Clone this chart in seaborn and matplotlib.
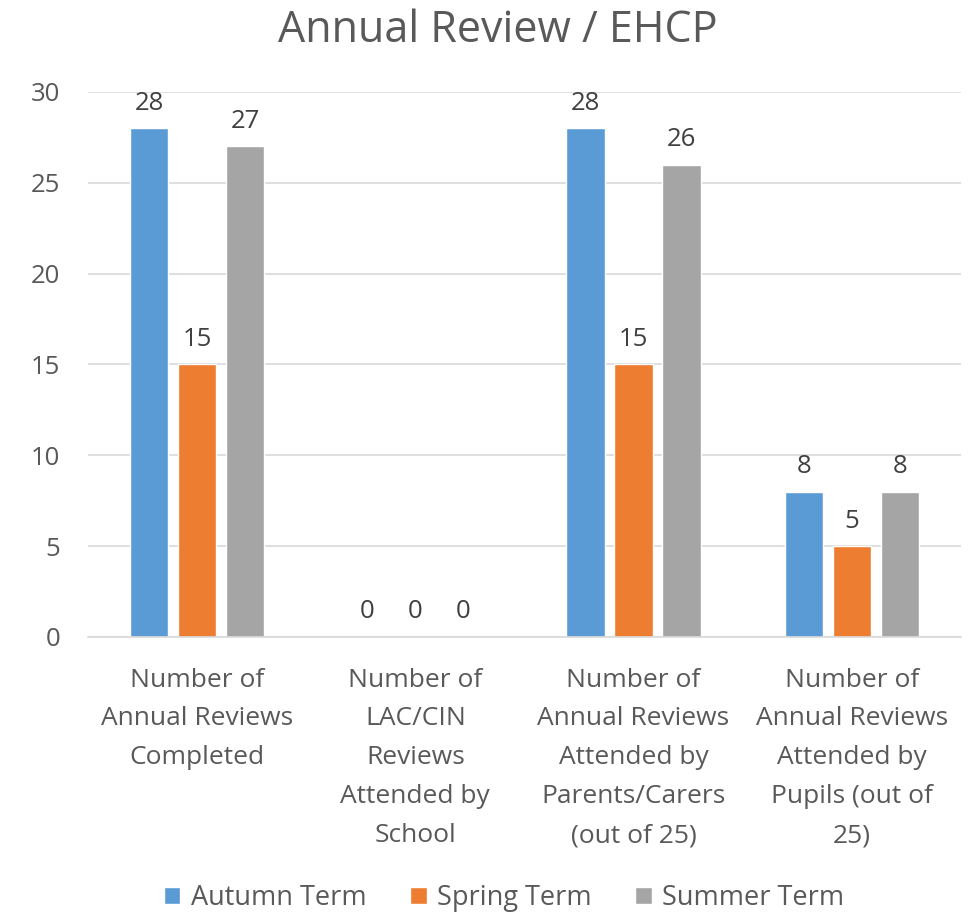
import numpy as np
import pandas as pd
import matplotlib
matplotlib.use("Agg")
import matplotlib.pyplot as plt
import seaborn as sns

# Dati del grafico
categories = [
    "Number of\nAnnual Reviews\nCompleted",
    "Number of\nLAC/CIN\nReviews\nAttended by\nSchool",
    "Number of\nAnnual Reviews\nAttended by\nParents/Carers\n(out of 25)",
    "Number of\nAnnual Reviews\nAttended by\nPupils (out of\n25)",
]
terms = ["Autumn Term", "Spring Term", "Summer Term"]
autumn = [28, 0, 28, 8]
spring = [15, 0, 15, 5]
summer = [27, 0, 26, 8]
colors = ["#5B9BD5", "#ED7D31", "#A5A5A5"]

df = pd.DataFrame({
    "category": categories * 3,
    "term": [terms[0]] * 4 + [terms[1]] * 4 + [terms[2]] * 4,
    "value": autumn + spring + summer,
})

sns.set_style("white")
plt.rcParams["font.family"] = ["Open Sans", "DejaVu Sans"]

fig = plt.figure(figsize=(9.73, 9.16), dpi=100)
ax = fig.add_axes([0.0905, 0.3046, 0.897, 0.595])

sns.barplot(data=df, x="category", y="value", hue="term", palette=colors,
            width=0.66, gap=0.2, ax=ax, legend=True, saturation=1)

# Etichette sopra le barre
for cont in ax.containers:
    ax.bar_label(cont, fmt="%d", padding=9, fontsize=18.5, color="#404040")

ax.set_ylim(0, 30)
ax.set_xlim(-0.5, 3.5)
ax.set_yticks(range(0, 31, 5))
ax.yaxis.grid(True, color="#D9D9D9", linewidth=1.2)
ax.set_axisbelow(True)
for s in ["top", "right", "left"]:
    ax.spines[s].set_visible(False)
ax.spines["bottom"].set_color("#D9D9D9")
ax.spines["bottom"].set_linewidth(1.2)
ax.tick_params(axis="y", labelsize=18.5, labelcolor="#595959", length=0, pad=20)
ax.tick_params(axis="x", labelsize=19, labelcolor="#595959", length=0, pad=22)
ax.set_xlabel("")
ax.set_ylabel("")
for lbl in ax.get_xticklabels():
    lbl.set_linespacing(1.73)

ax.set_title("Annual Review / EHCP", fontsize=31, color="#595959", pad=36, x=0.47)

leg = ax.legend(loc="lower center", bbox_to_anchor=(0.477, -0.55), ncol=3,
                frameon=False, fontsize=19.5, handlelength=0.6, handleheight=0.6,
                columnspacing=1.6, handletextpad=0.4)
for t in leg.get_texts():
    t.set_color("#595959")

fig.savefig("out.png", dpi=100)
